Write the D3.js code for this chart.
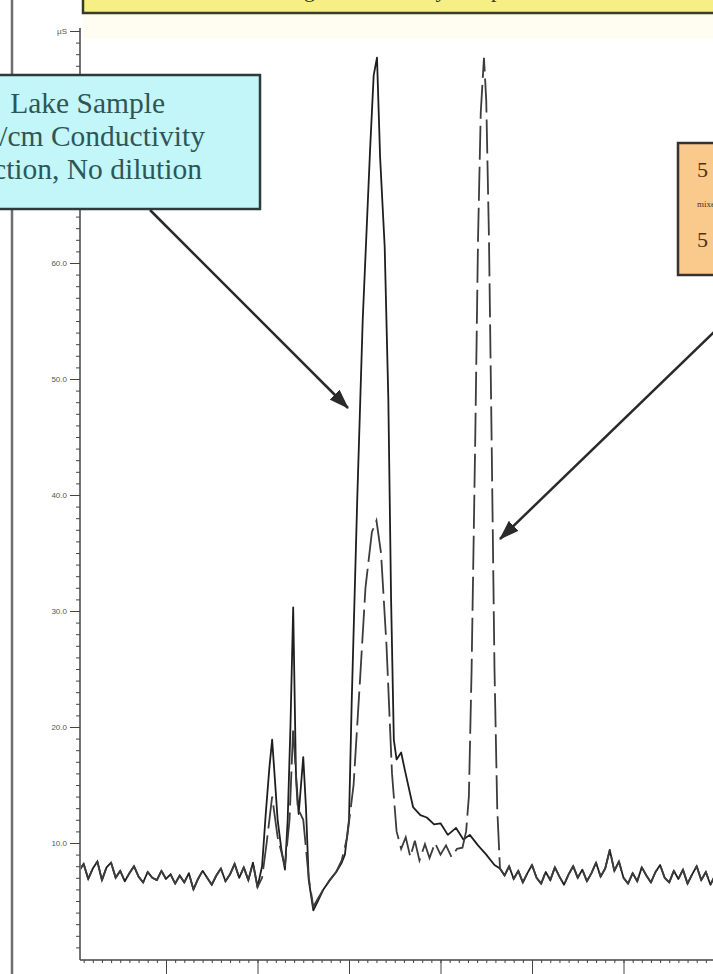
<!DOCTYPE html>
<html>

<head>
    <meta charset="utf-8">
    <style>
        body {
            margin: 0;
            background: #fff;
        }

        svg {
            display: block;
        }

        .y .tick text {
            font-family: 'Liberation Sans', Arial, sans-serif;
            font-size: 8px;
            fill: #555;
        }

        .x .tick text {
            font-family: 'Liberation Sans', Arial, sans-serif;
            font-size: 9px;
            fill: #444;
        }

        .tick line {
            stroke: #444;
        }

        .callout text {
            font-family: 'Liberation Serif', 'Times New Roman', serif;
        }
    </style>
</head>

<body>
    <svg width="713" height="974"></svg>
</body>

<script src="https://d3js.org/d3.v7.min.js"></script>

<script>
    // baseline noise shared by both runs (minutes from 0.05 step 0.05)
    let baselineLeftT = d3.range(1, 41).map(i => i * 0.05)
    let baselineLeft = [
        7.6, 8.2, 6.9, 7.8, 8.4, 6.8, 7.9, 8.3, 7.0, 7.6,
        6.7, 7.4, 8.0, 7.1, 6.6, 7.5, 7.0, 6.8, 7.6, 6.9,
        7.3, 6.5, 7.2, 6.6, 7.4, 6.0, 6.9, 7.6, 7.0, 6.4,
        7.2, 7.8, 6.7, 7.3, 8.2, 7.0, 7.9, 6.8, 8.3, 6.2]

    let baselineRightT = d3.range(93, 141).map(i => i * 0.05)
    let baselineRight = [
        7.8, 7.2, 8.0, 6.9, 7.6, 6.6, 7.4, 8.1, 7.0, 6.5,
        7.5, 6.8, 7.9, 7.1, 6.4, 7.3, 8.0, 7.0, 7.7, 6.7,
        7.4, 8.3, 7.1, 7.8, 9.4, 7.6, 8.4, 7.0, 6.5, 7.4,
        6.7, 7.9, 7.2, 6.6, 7.5, 8.1, 7.0, 6.6, 7.6, 6.9,
        7.7, 6.5, 7.3, 8.0, 6.8, 7.5, 6.4, 7.2]

    // lake sample (solid) between the baselines
    let lakeT = [2.05, 2.09, 2.13, 2.16, 2.19, 2.22, 2.26, 2.30, 2.33, 2.36,
        2.39, 2.42, 2.45, 2.50, 2.53, 2.56, 2.61, 2.66, 2.72, 2.79,
        2.86, 2.92, 2.955, 3.0, 3.03, 3.09, 3.15, 3.23, 3.27, 3.306,
        3.34, 3.39, 3.43, 3.46, 3.49, 3.52, 3.57, 3.61, 3.70, 3.78,
        3.85, 3.93, 4.0, 4.08, 4.17, 4.25, 4.32, 4.41, 4.5, 4.59]
    let lakeV = [8.0, 12.5, 16.5, 18.9, 15.5, 12.0, 9.5, 7.7, 12.0, 20.0,
        30.3, 16.0, 12.5, 17.4, 13.0, 6.8, 4.2, 5.0, 6.0, 6.8,
        7.5, 8.3, 9.0, 12.0, 22.3, 39.6, 55.1, 69.7, 76.2, 77.7,
        69.1, 61.4, 48.2, 31.0, 18.9, 17.2, 17.8, 16.3, 13.1, 12.4,
        12.2, 11.6, 11.7, 10.7, 11.3, 10.3, 10.7, 9.8, 9.0, 8.1]

    // standard (dashed)
    let stdT = [2.05, 2.10, 2.16, 2.22, 2.30, 2.35, 2.39, 2.44, 2.50, 2.56,
        2.61, 2.66, 2.72, 2.79, 2.86, 2.92, 2.98, 3.05, 3.12, 3.18,
        3.25, 3.30, 3.35, 3.41, 3.47, 3.52, 3.57, 3.62, 3.67, 3.72,
        3.77, 3.83, 3.88, 3.94, 4.00, 4.06, 4.12, 4.18, 4.24, 4.28,
        4.31, 4.34, 4.38, 4.41, 4.44, 4.475, 4.50, 4.53, 4.56, 4.59, 4.62]
    let stdV = [7.0, 10.0, 14.0, 10.5, 8.0, 12.0, 20.0, 13.0, 12.0, 7.0,
        4.5, 5.2, 6.0, 6.8, 7.5, 8.5, 10.5, 15.0, 24.0, 32.0,
        36.8, 37.8, 35.0, 27.0, 16.0, 11.0, 9.5, 10.5, 8.8, 10.2,
        8.5, 9.9, 8.7, 10.0, 9.0, 9.8, 8.8, 9.5, 9.6, 11.0,
        14.0, 25.0, 45.0, 62.0, 73.0, 77.7, 74.0, 62.0, 44.0, 25.0, 13.0]

    let yTicks = [10, 20, 30, 40, 50, 60, 70, 80]
    let xTicks = [1, 2, 3, 4, 5, 6, 7]

    let sampleLines = ["Lake Sample", "µS/cm Conductivity", "Injection, No dilution"]
    let standardLines = ["5 mg/L Standard", "mixed anions", "5 µL Injection"]

    function series(ts, vs) {
        return ts.map((t, i) => ({ t: t, v: vs[i] }))
    }

    let left = series(baselineLeftT, baselineLeft)
    let right = series(baselineRightT, baselineRight)
    let lake = left.concat(series(lakeT, lakeV), right)
    let standard = left.concat(series(stdT, stdV), right)

    let svg = d3.select("svg")

    let x = d3.scaleLinear()
        .domain([0, 7])
        .range([74.5, 715])

    let y = d3.scaleLinear()
        .domain([0, 80])
        .range([959, 31])

    let plotLeft = 80, plotBottom = 960

    // outer frame line on the left
    svg.append("line")
        .attr("x1", 12).attr("x2", 12)
        .attr("y1", 0).attr("y2", 974)
        .attr("stroke", "#6f6f6f")
        .attr("stroke-width", 2.5)

    // pale band under the title
    svg.append("rect")
        .attr("x", 83).attr("y", 13)
        .attr("width", 640).attr("height", 26)
        .attr("fill", "#fffdf2")

    // title bar (cut off at the top)
    svg.append("rect")
        .attr("x", 83).attr("y", -20)
        .attr("width", 650).attr("height", 33)
        .attr("fill", "#f5ef86")
        .attr("stroke", "#3a3a2a")
        .attr("stroke-width", 2.5)

    svg.append("text")
        .attr("x", 400).attr("y", -3)
        .attr("text-anchor", "middle")
        .style("font-family", "'Liberation Serif', serif")
        .style("font-size", "22px")
        .style("fill", "#333")
        .text("High Conductivity Sample")

    // axes
    let yMinor = d3.axisLeft(y)
        .tickValues(d3.range(1, 80))
        .tickSize(4)
        .tickFormat("")

    svg.append("g")
        .attr("class", "y minor")
        .attr("transform", `translate(${plotLeft},0)`)
        .call(yMinor)
        .call(g => g.select(".domain").remove())

    let yAxis = d3.axisLeft(y)
        .tickValues(yTicks)
        .tickSize(10)
        .tickPadding(3)
        .tickFormat(d => d == 80 ? "µS" : d3.format(".1f")(d))

    svg.append("g")
        .attr("class", "y axis")
        .attr("transform", `translate(${plotLeft},0)`)
        .call(yAxis)
        .call(g => g.select(".domain").remove())

    let xMinor = d3.axisBottom(x)
        .tickValues(d3.range(1, 70).map(d => d / 10))
        .tickSize(3)
        .tickFormat("")

    svg.append("g")
        .attr("class", "x minor")
        .attr("transform", `translate(0,${plotBottom})`)
        .call(xMinor)
        .call(g => g.select(".domain").remove())

    let xAxis = d3.axisBottom(x)
        .tickValues(xTicks)
        .tickSize(14)
        .tickPadding(4)
        .tickFormat(d3.format(".2f"))

    svg.append("g")
        .attr("class", "x axis")
        .attr("transform", `translate(0,${plotBottom})`)
        .call(xAxis)
        .call(g => g.select(".domain").remove())

    svg.append("line")
        .attr("x1", plotLeft).attr("x2", 713)
        .attr("y1", plotBottom).attr("y2", plotBottom)
        .attr("stroke", "#444").attr("stroke-width", 1.5)

    svg.append("line")
        .attr("x1", plotLeft).attr("x2", plotLeft)
        .attr("y1", 28).attr("y2", plotBottom)
        .attr("stroke", "#444").attr("stroke-width", 1.5)

    // traces
    svg.append("clipPath")
        .attr("id", "plot-clip")
        .append("rect")
        .attr("x", plotLeft + 1).attr("y", 20)
        .attr("width", 713 - plotLeft).attr("height", plotBottom - 20)

    let line = d3.line()
        .x(d => x(d.t))
        .y(d => y(d.v))

    let traces = svg.append("g")
        .attr("clip-path", "url(#plot-clip)")

    traces.append("path")
        .datum(lake)
        .attr("d", line)
        .attr("fill", "none")
        .attr("stroke", "#1e1e1e")
        .attr("stroke-width", 1.8)
        .attr("stroke-linejoin", "round")

    traces.append("path")
        .datum(standard)
        .attr("d", line)
        .attr("fill", "none")
        .attr("stroke", "#3c3c3c")
        .attr("stroke-width", 1.8)
        .attr("stroke-dasharray", "34,7")

    // arrow heads
    let defs = svg.append("defs")
    defs.append("marker")
        .attr("id", "head")
        .attr("markerUnits", "userSpaceOnUse")
        .attr("viewBox", "0 0 20 14")
        .attr("refX", 19).attr("refY", 7)
        .attr("markerWidth", 20).attr("markerHeight", 14)
        .attr("orient", "auto")
        .append("path")
        .attr("d", "M0,0 L20,7 L0,14 Z")
        .attr("fill", "#2a2a2a")

    function arrow(x1, y1, x2, y2) {
        svg.append("line")
            .attr("x1", x1).attr("y1", y1)
            .attr("x2", x2).attr("y2", y2)
            .attr("stroke", "#2a2a2a")
            .attr("stroke-width", 2.5)
            .attr("marker-end", "url(#head)")
    }

    arrow(150, 210, 348, 408)
    arrow(716, 330, 500, 539)

    // sample callout (cyan)
    let c1 = svg.append("g").attr("class", "callout")
    c1.append("rect")
        .attr("x", -10).attr("y", 75)
        .attr("width", 270).attr("height", 134)
        .attr("fill", "#c3f6f8")
        .attr("stroke", "#2c3a3a")
        .attr("stroke-width", 2.5)

    let ends1 = [165, 205, 202]
    c1.selectAll("text")
        .data(sampleLines)
        .join("text")
        .attr("x", (d, i) => ends1[i])
        .attr("y", (d, i) => 113 + i * 33)
        .attr("text-anchor", "end")
        .style("font-size", "29.5px")
        .style("fill", "#2f5656")
        .text(d => d)

    // standard callout (orange)
    let c2 = svg.append("g").attr("class", "callout")
    c2.append("rect")
        .attr("x", 678).attr("y", 143)
        .attr("width", 60).attr("height", 132)
        .attr("fill", "#fac98c")
        .attr("stroke", "#333")
        .attr("stroke-width", 2.5)

    let ys2 = [177, 207, 247], fs2 = ["22px", "9px", "22px"]
    c2.selectAll("text")
        .data(standardLines)
        .join("text")
        .attr("x", 697)
        .attr("y", (d, i) => ys2[i])
        .style("font-size", (d, i) => fs2[i])
        .style("fill", "#4a3418")
        .text(d => d)
</script>

</html>
